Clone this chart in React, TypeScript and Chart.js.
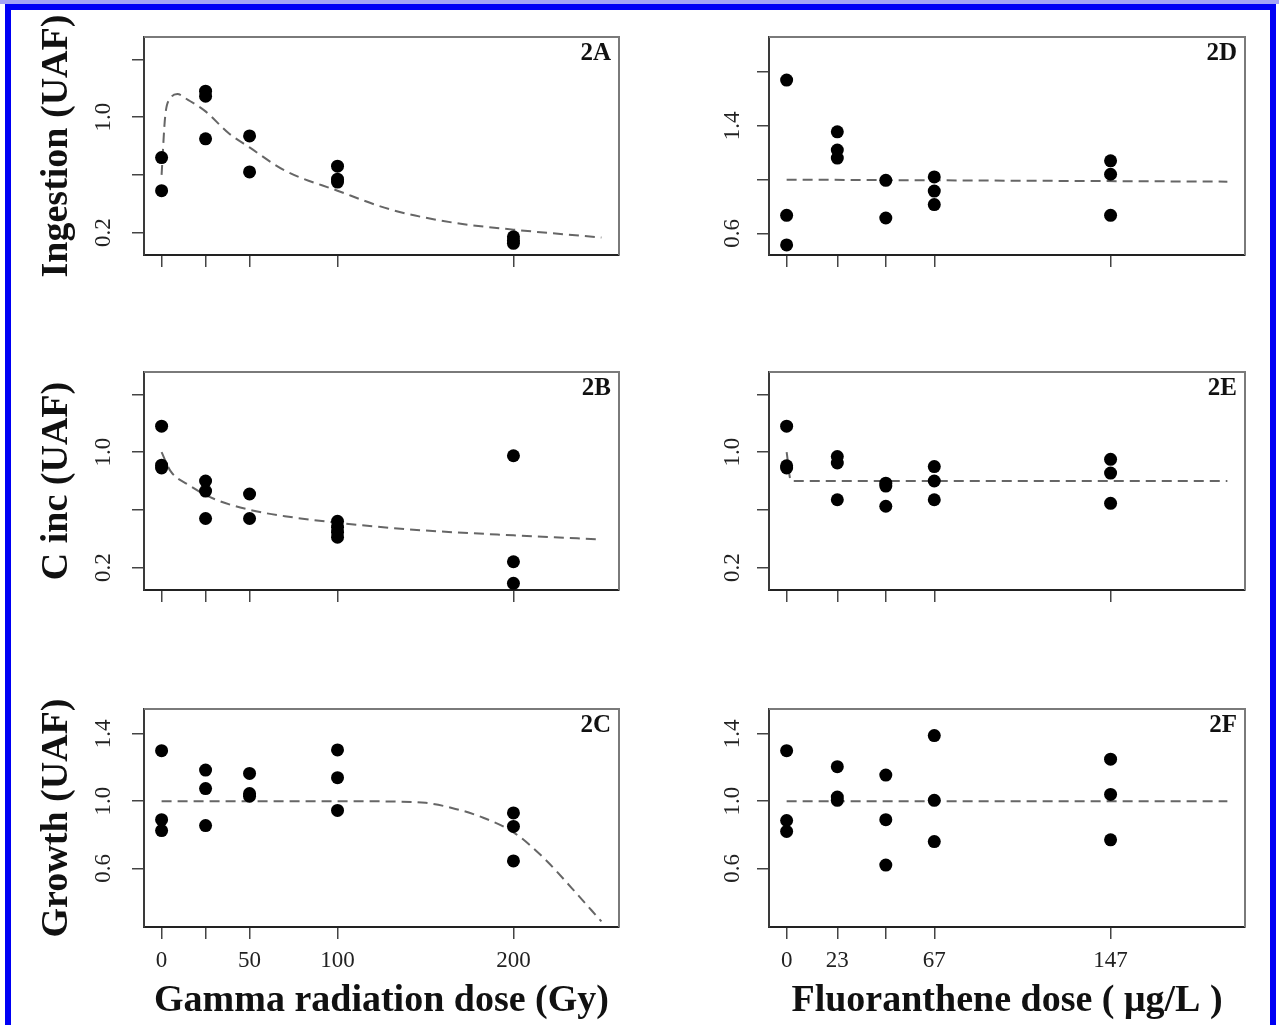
import React, { useEffect, useRef } from "react";
import { Chart, registerables } from "chart.js";

Chart.register(...registerables);

const SERIF = '"Liberation Serif", "Times New Roman", serif';

// ---------- axis ticks ----------
const gammaDoseTicks = [0, 25, 50, 100, 200];
const gammaDoseTickLabels = ["0", "", "50", "100", "200"];
const fluorDoseTicks = [0, 23, 45, 67, 147];
const fluorDoseTickLabels = ["0", "23", "", "67", "147"];

const uafTicksLow = [0.2, 0.6, 1.0, 1.4];
const uafTickLabelsLow = ["0.2", "", "1.0", ""];
const uafTicksHigh = [0.6, 1.0, 1.4, 1.8];
const uafTickLabelsHigh = ["0.6", "", "1.4", ""];
const uafTicksGrowth = [0.6, 1.0, 1.4];
const uafTickLabelsGrowth = ["0.6", "1.0", "1.4"];

// ---------- 2A : ingestion vs gamma ----------
const ingestionGammaDose = [0, 0, 25, 25, 25, 50, 50, 100, 100, 100, 200, 200, 200];
const ingestionGammaUaf = [0.72, 0.49, 1.18, 1.145, 0.85, 0.87, 0.62, 0.66, 0.57, 0.55, 0.17, 0.145, 0.125];
const ingestionGammaFitDose = [0, 2, 5, 9, 15, 25, 38, 50, 70, 100, 130, 165, 200, 250];
const ingestionGammaFitUaf = [0.6, 1.0, 1.13, 1.16, 1.12, 1.04, 0.89, 0.79, 0.63, 0.49, 0.36, 0.27, 0.22, 0.165];

// ---------- 2B : C inc vs gamma ----------
const cincGammaDose = [0, 0, 0, 25, 25, 25, 50, 50, 100, 100, 100, 100, 200, 200, 200];
const cincGammaUaf = [1.18, 0.91, 0.89, 0.8, 0.73, 0.54, 0.71, 0.54, 0.52, 0.48, 0.445, 0.41, 0.975, 0.24, 0.09];
const cincGammaFitDose = [0, 5, 15, 30, 50, 70, 100, 140, 200, 250];
const cincGammaFitUaf = [1.0, 0.87, 0.775, 0.675, 0.6, 0.556, 0.51, 0.465, 0.423, 0.395];

// ---------- 2C : growth vs gamma ----------
const growthGammaDose = [0, 0, 0, 25, 25, 25, 50, 50, 50, 100, 100, 100, 200, 200, 200];
const growthGammaUaf = [1.3, 0.89, 0.825, 1.185, 1.075, 0.855, 1.165, 1.045, 1.03, 1.305, 1.14, 0.945, 0.93, 0.85, 0.645];
const growthGammaFitDose = [0, 100, 130, 150, 165, 182, 200, 217, 233, 250];
const growthGammaFitUaf = [1.0, 1.0, 0.998, 0.99, 0.96, 0.905, 0.815, 0.665, 0.485, 0.285];

// ---------- 2D : ingestion vs fluoranthene ----------
const ingestionFluorDose = [0, 0, 0, 23, 23, 23, 45, 45, 67, 67, 67, 147, 147, 147];
const ingestionFluorUaf = [1.74, 0.735, 0.515, 1.355, 1.22, 1.16, 0.995, 0.715, 1.02, 0.915, 0.815, 1.14, 1.04, 0.735];
const ingestionFluorFitDose = [0, 200];
const ingestionFluorFitUaf = [1.0, 0.985];

// ---------- 2E : C inc vs fluoranthene ----------
const cincFluorDose = [0, 0, 0, 23, 23, 23, 45, 45, 45, 67, 67, 67, 147, 147, 147];
const cincFluorUaf = [1.18, 0.905, 0.89, 0.97, 0.925, 0.67, 0.785, 0.765, 0.625, 0.9, 0.8, 0.67, 0.95, 0.855, 0.645];
const cincFluorFitDose = [0, 2, 200];
const cincFluorFitUaf = [1.0, 0.8, 0.8];

// ---------- 2F : growth vs fluoranthene ----------
const growthFluorDose = [0, 0, 0, 23, 23, 23, 45, 45, 45, 67, 67, 67, 147, 147, 147];
const growthFluorUaf = [1.3, 0.885, 0.82, 1.205, 1.025, 1.005, 1.155, 0.89, 0.62, 1.39, 1.005, 0.76, 1.25, 1.04, 0.77];
const growthFluorFitDose = [0, 200];
const growthFluorFitUaf = [1.0, 1.0];

// ---------- layout (not data) ----------
const COLS = [
  { x: 10, w: 630, yAxisW: 134, padRight: 21, labelGap: 40, xMin: -10, xMax: 260 },
  { x: 640, w: 630, yAxisW: 129, padRight: 25, labelGap: 36, xMin: -8, xMax: 208 },
];
const ROWS = [
  { y: 8, h: 292, padTop: 29, xAxisH: 45 },
  { y: 320, h: 300, padTop: 52, xAxisH: 30 },
  { y: 660, h: 365, padTop: 49, xAxisH: 98 },
];

type PanelDef = {
  tag: string;
  col: number;
  row: number;
  dose: number[];
  uaf: number[];
  fitDose: number[];
  fitUaf: number[];
  yMin: number;
  yMax: number;
  yTicks: number[];
  yTickLabels: string[];
  xTicks: number[];
  xTickLabels: string[];
  showXLabels: boolean;
  yTitle?: string;
  xTitle?: string;
};

const PANELS: PanelDef[] = [
  {
    tag: "2A", col: 0, row: 0,
    dose: ingestionGammaDose, uaf: ingestionGammaUaf,
    fitDose: ingestionGammaFitDose, fitUaf: ingestionGammaFitUaf,
    yMin: 0.044, yMax: 1.556, yTicks: uafTicksLow, yTickLabels: uafTickLabelsLow,
    xTicks: gammaDoseTicks, xTickLabels: gammaDoseTickLabels, showXLabels: false,
    yTitle: "Ingestion (UAF)",
  },
  {
    tag: "2B", col: 0, row: 1,
    dose: cincGammaDose, uaf: cincGammaUaf,
    fitDose: cincGammaFitDose, fitUaf: cincGammaFitUaf,
    yMin: 0.044, yMax: 1.556, yTicks: uafTicksLow, yTickLabels: uafTickLabelsLow,
    xTicks: gammaDoseTicks, xTickLabels: gammaDoseTickLabels, showXLabels: false,
    yTitle: "C inc (UAF)",
  },
  {
    tag: "2C", col: 0, row: 2,
    dose: growthGammaDose, uaf: growthGammaUaf,
    fitDose: growthGammaFitDose, fitUaf: growthGammaFitUaf,
    yMin: 0.252, yMax: 1.548, yTicks: uafTicksGrowth, yTickLabels: uafTickLabelsGrowth,
    xTicks: gammaDoseTicks, xTickLabels: gammaDoseTickLabels, showXLabels: true,
    yTitle: "Growth (UAF)", xTitle: "Gamma radiation dose (Gy)",
  },
  {
    tag: "2D", col: 1, row: 0,
    dose: ingestionFluorDose, uaf: ingestionFluorUaf,
    fitDose: ingestionFluorFitDose, fitUaf: ingestionFluorFitUaf,
    yMin: 0.44, yMax: 2.06, yTicks: uafTicksHigh, yTickLabels: uafTickLabelsHigh,
    xTicks: fluorDoseTicks, xTickLabels: fluorDoseTickLabels, showXLabels: false,
  },
  {
    tag: "2E", col: 1, row: 1,
    dose: cincFluorDose, uaf: cincFluorUaf,
    fitDose: cincFluorFitDose, fitUaf: cincFluorFitUaf,
    yMin: 0.044, yMax: 1.556, yTicks: uafTicksLow, yTickLabels: uafTickLabelsLow,
    xTicks: fluorDoseTicks, xTickLabels: fluorDoseTickLabels, showXLabels: false,
  },
  {
    tag: "2F", col: 1, row: 2,
    dose: growthFluorDose, uaf: growthFluorUaf,
    fitDose: growthFluorFitDose, fitUaf: growthFluorFitUaf,
    yMin: 0.252, yMax: 1.548, yTicks: uafTicksGrowth, yTickLabels: uafTickLabelsGrowth,
    xTicks: fluorDoseTicks, xTickLabels: fluorDoseTickLabels, showXLabels: true,
    xTitle: "Fluoranthene dose ( \u03bcg/L )",
  },
];

const panelDecor = {
  id: "panelDecor",
  afterDraw(chart: any, _args: any, opts: any) {
    const { ctx, chartArea: a, scales } = chart;
    ctx.save();
    // top and right frame edges
    ctx.setLineDash([]);
    ctx.strokeStyle = "#7a7a7a";
    ctx.lineWidth = 2;
    ctx.beginPath();
    ctx.moveTo(a.left, a.top);
    ctx.lineTo(a.right, a.top);
    ctx.lineTo(a.right, a.bottom);
    ctx.stroke();

    // panel tag
    ctx.font = `bold 25px ${SERIF}`;
    ctx.fillStyle = "#111";
    ctx.textAlign = "right";
    ctx.textBaseline = "alphabetic";
    ctx.fillText(opts.tag, a.right - 8, a.top + 23);

    // rotated y tick labels
    ctx.font = `23px ${SERIF}`;
    ctx.fillStyle = "#222";
    ctx.textAlign = "center";
    ctx.textBaseline = "middle";
    opts.yTicks.forEach((v: number, i: number) => {
      const txt = opts.yTickLabels[i];
      if (!txt) return;
      const y = scales.y.getPixelForValue(v);
      ctx.save();
      ctx.translate(a.left - opts.labelGap, y);
      ctx.rotate(-Math.PI / 2);
      ctx.fillText(txt, 0, 0);
      ctx.restore();
    });

    // rotated y-axis title
    if (opts.yTitle) {
      ctx.font = `bold 38px ${SERIF}`;
      ctx.fillStyle = "#111";
      ctx.textAlign = "center";
      ctx.textBaseline = "middle";
      ctx.save();
      ctx.translate(47, (a.top + a.bottom) / 2);
      ctx.rotate(-Math.PI / 2);
      ctx.fillText(opts.yTitle, 0, 0);
      ctx.restore();
    }
    ctx.restore();
  },
};

function buildConfig(p: PanelDef): any {
  const col = COLS[p.col];
  const row = ROWS[p.row];
  return {
    type: "scatter",
    data: {
      datasets: [
        {
          data: p.dose.map((d, i) => ({ x: d, y: p.uaf[i] })),
          showLine: false,
          pointRadius: 6.5,
          pointHoverRadius: 6.5,
          pointBackgroundColor: "#000",
          pointBorderColor: "#000",
          pointBorderWidth: 0,
        },
        {
          data: p.fitDose.map((d, i) => ({ x: d, y: p.fitUaf[i] })),
          showLine: true,
          pointRadius: 0,
          pointHoverRadius: 0,
          borderColor: "#666",
          borderWidth: 2,
          borderDash: [10, 6],
          cubicInterpolationMode: "monotone",
          fill: false,
        },
      ],
    },
    options: {
      animation: false,
      responsive: false,
      events: [],
      layout: { padding: { left: 0, top: row.padTop, right: col.padRight, bottom: 0 } },
      plugins: {
        legend: { display: false },
        tooltip: { enabled: false },
        panelDecor: {
          tag: p.tag,
          yTicks: p.yTicks,
          yTickLabels: p.yTickLabels,
          labelGap: col.labelGap,
          yTitle: p.yTitle,
        },
      },
      scales: {
        x: {
          type: "linear",
          position: "bottom",
          min: col.xMin,
          max: col.xMax,
          afterBuildTicks: (s: any) => {
            s.ticks = p.xTicks.map((v) => ({ value: v }));
          },
          afterFit: (s: any) => {
            s.height = row.xAxisH;
          },
          ticks: {
            display: p.showXLabels,
            autoSkip: false,
            maxRotation: 0,
            minRotation: 0,
            padding: 8,
            color: "#222",
            font: { family: SERIF, size: 23 },
            callback: (_v: any, i: number) => p.xTickLabels[i],
          },
          grid: {
            drawOnChartArea: false,
            drawTicks: true,
            tickLength: 12,
            tickColor: "#444",
            tickWidth: 1.5,
            color: "#444",
            lineWidth: 1.5,
          },
          border: { display: true, color: "#222", width: 2 },
          title: {
            display: !!p.xTitle,
            text: p.xTitle || "",
            color: "#111",
            font: { family: SERIF, size: 38, weight: "bold", lineHeight: 1 },
            padding: { top: 0, bottom: 5 },
          },
        },
        y: {
          type: "linear",
          position: "left",
          min: p.yMin,
          max: p.yMax,
          afterBuildTicks: (s: any) => {
            s.ticks = p.yTicks.map((v) => ({ value: v }));
          },
          afterFit: (s: any) => {
            s.width = col.yAxisW;
          },
          ticks: { display: false },
          grid: {
            drawOnChartArea: false,
            drawTicks: true,
            tickLength: 12,
            tickColor: "#444",
            tickWidth: 1.5,
            color: "#444",
            lineWidth: 1.5,
          },
          border: { display: true, color: "#3a3a3a", width: 2, dash: [5, 3] },
          title: { display: false },
        },
      },
    },
    plugins: [panelDecor],
  };
}

function Panel({ def }: { def: PanelDef }) {
  const ref = useRef<HTMLCanvasElement | null>(null);
  const col = COLS[def.col];
  const row = ROWS[def.row];
  useEffect(() => {
    if (!ref.current) return;
    const chart = new Chart(ref.current, buildConfig(def));
    return () => chart.destroy();
  }, [def]);
  return (
    <canvas
      ref={ref}
      width={col.w}
      height={row.h}
      style={{ position: "absolute", left: col.x, top: row.y, width: col.w, height: row.h }}
    />
  );
}

export default function App() {
  return (
    <div
      style={{
        position: "absolute",
        left: 0,
        top: 0,
        width: 1279,
        height: 1025,
        overflow: "hidden",
        background: "#fff",
      }}
    >
      <div style={{ position: "absolute", left: 0, top: 0, width: 1279, height: 4, background: "#a4a4f6" }} />
      <div
        style={{
          position: "absolute",
          left: 5,
          top: 4,
          width: 1271,
          height: 1060,
          boxSizing: "border-box",
          border: "6px solid #0000f5",
        }}
      />
      {PANELS.map((p) => (
        <Panel key={p.tag} def={p} />
      ))}
    </div>
  );
}
